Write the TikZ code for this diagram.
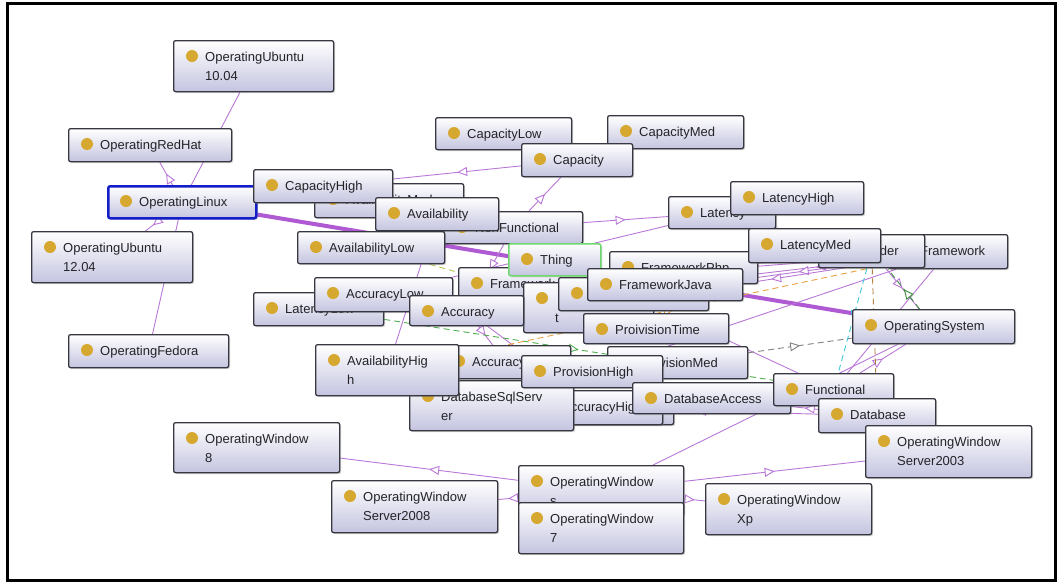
\documentclass[tikz,border=0pt]{standalone}
\usepackage{fontspec}
\setmainfont{Liberation Sans}
\usetikzlibrary{arrows.meta,decorations.markings,shadows}
\definecolor{kviolett}{RGB}{185,120,215}
\definecolor{kdick}{RGB}{175,90,210}
\definecolor{kpunkt}{RGB}{214,168,48}
\definecolor{krand}{RGB}{55,55,65}
\definecolor{kunten}{RGB}{196,196,224}
\definecolor{kschrift}{RGB}{35,35,40}
\definecolor{kblau}{RGB}{20,30,200}
\definecolor{kgruen}{RGB}{110,215,110}
\definecolor{sgruen}{RGB}{80,175,80}
\definecolor{sdunkel}{RGB}{60,140,60}
\definecolor{sgelb}{RGB}{175,200,80}
\definecolor{sorange}{RGB}{232,160,64}
\definecolor{sbraun}{RGB}{176,128,64}
\definecolor{scyan}{RGB}{64,200,216}
\definecolor{sgrau}{RGB}{130,130,130}
\pgfdeclarelayer{hinten}
\pgfdeclarelayer{kanten}
\pgfsetlayers{hinten,kanten,main}

% Klasse: [Optionen]{Name}{x}{y}{Breite}{Hoehe}{Text}
\newcommand{\klasse}[7][]{%
  \node[kbox,#1,minimum width=#5pt,minimum height=#6pt] (#2) at (#3,#4) {};
  \fill[kpunkt] ([shift={(19pt,-16pt)}]#2.north west) circle (6pt);
  \node[ktext] at ([shift={(32pt,-21pt)}]#2.north west) {#7};
}

\begin{document}
\begin{tikzpicture}[x=1pt,y=-1pt,
  kbox/.style={draw=krand, line width=1.3pt, rounded corners=2pt, anchor=north west,
    inner sep=0pt, top color=white, bottom color=kunten,
    drop shadow={shadow xshift=1.5pt, shadow yshift=-1.5pt, opacity=0.3}},
  ktext/.style={anchor=base west, inner sep=0pt, text width=160pt, align=left,
    font=\fontsize{13}{19}\selectfont, text=kschrift},
  kante/.style={draw=kviolett, line width=0.9pt,
    decoration={markings, mark=at position 0.5 with {\arrow{Triangle[length=10pt,width=9pt,fill=white]}}},
    postaction={decorate}},
  strich/.style={kante, dash pattern=on 6pt off 4pt},
  linie/.style={draw=kviolett, line width=0.9pt},
  dick/.style={draw=kdick, line width=4pt}]
  \useasboundingbox (0,0) rectangle (1059,582);
  % Rahmen
  \begin{pgfonlayer}{hinten}
    \fill[white] (0,0) rectangle (1059,582);
    \draw[line width=3.5pt] (7.5,3.5) rectangle (1055.5,580.5);
  \end{pgfonlayer}

  % Linux
  \klasse{ub10}{173}{40}{160}{51}{OperatingUbuntu\\10.04}
  \klasse{redhat}{68}{128}{163}{33}{OperatingRedHat}
  \klasse[draw=kblau,line width=2.5pt]{linux}{107}{185}{148}{32}{OperatingLinux}
  \klasse{ub12}{31}{231}{161}{51}{OperatingUbuntu\\12.04}
  \klasse{fedora}{68}{334}{160}{33}{OperatingFedora}
  % Capacity, Availability
  \klasse{capLow}{435}{117}{136}{32}{CapacityLow}
  \klasse{capMed}{607}{115}{136}{33}{CapacityMed}
  \klasse{capacity}{521}{143}{111}{33}{Capacity}
  \klasse{availMed}{314}{183}{149}{34}{AvailabilityMed}
  \klasse{capHigh}{253}{169}{139}{33}{CapacityHigh}
  \klasse{nonFunc}{443}{211}{139}{32}{NonFunctional}
  \klasse{avail}{375}{197}{123}{33}{Availability}
  \klasse{availLow}{297}{231}{147}{32}{AvailabilityLow}
  % Latency, Framework
  \klasse{latency}{668}{196}{107}{32}{Latency}
  \klasse{latHigh}{730}{181}{133}{33}{LatencyHigh}
  \klasse{framework}{888}{234}{119}{34}{Framework}
  \klasse{provider}{818}{234}{106}{33}{Provider}
  \klasse{fwPhp}{609}{251}{148}{32}{FrameworkPhp}
  \klasse{latMed}{748}{228}{132}{34}{LatencyMed}
  \klasse{fwLeft}{458}{267}{130}{33}{Framework}
  \klasse[draw=kgruen,line width=1.5pt]{thing}{508}{243}{92}{32}{Thing}
  \klasse{tbox}{523}{282}{130}{50}{\mbox{}\\t}
  \klasse{boxA}{558}{277}{150}{33}{}
  \klasse{fwJava}{587}{268}{155}{32}{FrameworkJava}
  % Accuracy
  \klasse{latLow}{253}{292}{130}{33}{LatencyLow}
  \klasse{accLow}{314}{277}{138}{34}{AccuracyLow}
  \klasse{accuracy}{409}{295}{114}{30}{Accuracy}
  \klasse{provTime}{583}{313}{145}{30}{ProivisionTime}
  \klasse{accMed}{440}{345}{130}{33}{AccuracyMed}
  \klasse{boxB}{545}{392}{128}{32}{}
  \klasse{accHigh}{530}{390}{132}{34}{AccuracyHigh}
  \klasse{dbSql}{409}{380}{164}{50}{DatabaseSqlServ\\er}
  \klasse{availHigh}{315}{344}{143}{51}{AvailabilityHig\\h}
  \klasse{provMed}{607}{346}{140}{32}{ProvisionMed}
  \klasse{provHigh}{521}{355}{141}{32}{ProvisionHigh}
  \klasse{dbAccess}{632}{382}{158}{31}{DatabaseAccess}
  \klasse{functional}{773}{373}{120}{32}{Functional}
  \klasse{database}{818}{398}{117}{34}{Database}
  \klasse{opSys}{852}{309}{162}{34}{OperatingSystem}
  \klasse{ws2003}{865}{425}{166}{52}{OperatingWindow\\Server2003}
  % Windows
  \klasse{win8}{173}{422}{166}{50}{OperatingWindow\\8}
  \klasse{ws2008}{331}{480}{166}{52}{OperatingWindow\\Server2008}
  \klasse{windows}{518}{465}{165}{50}{OperatingWindow\\s}
  \klasse{win7}{518}{502}{165}{51}{OperatingWindow\\7}
  \klasse{xp}{705}{483}{166}{51}{OperatingWindow\\Xp}

  % Kanten
  \begin{pgfonlayer}{kanten}
    \draw[kante] (linux) -- (redhat);
    \draw[kante] (linux) -- (ub12);
    \draw[kante] (linux) -- (ub10);
    \draw[kante] (linux) -- (fedora);
    \draw[dick] (linux) -- (opSys);
    \draw[kante] (capacity) -- (capHigh);
    \draw[kante] (capacity) -- (capLow);
    \draw[kante] (capacity) -- (capMed);
    \draw[kante] (nonFunc) -- (capacity);
    \draw[kante] (nonFunc) -- (latency);
    \draw[kante] (nonFunc) -- (avail);
    \draw[kante] (nonFunc) -- (accuracy);
    \draw[kante] (latency) -- (latLow);
    \draw[kante] (latency) -- (latHigh);
    \draw[kante] (latency) -- (latMed);
    \draw[kante] (avail) -- (availHigh);
    \draw[kante] (avail) -- (availLow);
    \draw[kante] (accuracy) -- (accLow);
    \draw[kante] (accuracy) -- (accMed);
    \draw[kante] (accuracy) -- (accHigh);
    \draw[kante] (framework) -- (fwJava);
    \draw[kante] (framework) -- (fwPhp);
    \draw[kante] (framework) -- (fwLeft);
    \draw[kante] (framework) -- (boxA);
    \draw[kante] (framework) -- (tbox);
    \draw[kante] (database) -- (dbSql);
    \draw[kante] (database) -- (dbAccess);
    \draw[kante] (thing) -- (functional);
    \draw[kante] (functional) -- (opSys);
    \draw[kante] (functional) -- (framework);
    \draw[kante] (provider) -- (opSys);
    \draw[linie] (dbSql) -- (framework);
    \draw[kante] (opSys) -- (windows);
    \draw[kante] (windows) -- (win8);
    \draw[kante] (windows) -- (ws2008);
    \draw[kante] (windows) -- (xp);
    \draw[kante] (windows) -- (ws2003);
    \draw[kante] (windows) -- (win7);
    % gestrichelte Beziehungen
    \draw[strich, draw=sgruen] (latLow) -- (functional);
    \draw[strich, draw=sgrau] (provMed) -- (opSys);
    \draw[strich, draw=sgelb] (availLow) -- (provTime);
    \draw[strich, draw=sorange] (availHigh) -- (framework);
    \draw[strich, draw=sdunkel] (opSys) -- (framework.south west);
    \draw[strich, draw=scyan] (provider) -- (functional);
    \draw[strich, draw=sbraun] (provider) -- (database);
  \end{pgfonlayer}
\end{tikzpicture}
\end{document}
